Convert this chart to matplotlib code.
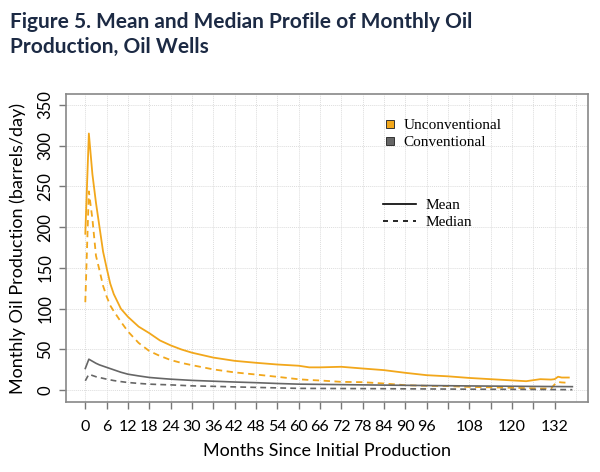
import matplotlib.pyplot as plt
from matplotlib.lines import Line2D

# months sampled (dense at start, sparser later)
months = [0, 1, 2, 3, 4, 5, 6, 7, 8, 10, 12, 15, 18, 21, 24, 27, 30, 36, 42, 48, 54, 60,
          63, 66, 72, 78, 84, 90, 96, 102, 108, 114, 120, 124, 128, 131, 132, 133, 134, 136]

unconv_mean = [192, 315, 265, 230, 200, 170, 150, 131, 118, 100, 90, 78, 70, 61, 55, 50, 46,
               40, 36, 33.6, 31.5, 30, 28, 28, 28.7, 26.6, 24.6, 21.3, 18.4, 17, 15, 13.5,
               12, 11, 13.5, 13, 13.5, 16.5, 15.5, 15.5]
unconv_median = [108, 244, 210, 165, 147, 128, 115, 104, 97, 84, 72, 58, 48, 42, 37, 33.5, 30.7,
                 25.5, 21.8, 19.2, 16.4, 13.4, 12.5, 11.9, 10.2, 9.8, 8.2, 6.1, 5.3, 5, 4,
                 3.5, 2.9, 2.5, 2, 2, 7, 10, 9.5, 9]

months_c = [0, 1, 2, 3, 4, 6, 8, 10, 12, 15, 18, 21, 24, 30, 36, 42, 48, 54, 60, 72, 84, 96,
            108, 120, 130, 137]
conv_mean = [26.6, 38, 35.5, 33, 31, 28, 25, 22, 19.6, 17.5, 15.6, 14.5, 13.5, 12, 11, 10,
             9.2, 8.2, 7.4, 6.8, 6.2, 5.7, 5.2, 4.8, 4.5, 4.3]
conv_median = [11.5, 19.6, 18, 16.5, 15.5, 13.5, 11.8, 10.5, 9.4, 8.3, 7.4, 6.9, 6.5, 5.3,
               4.7, 4, 3.4, 2.8, 2.2, 2, 1.8, 1.5, 1.2, 1, 0.8, 0.6]

xtick_labels = [0, 6, 12, 18, 24, 30, 36, 42, 48, 54, 60, 66, 72, 78, 84, 90, 96, 108, 120, 132]

orange = "#F2A71B"
grey = "#666666"

fig = plt.figure(figsize=(6, 4.72), dpi=100)
ax = fig.add_axes([0.11, 0.148, 0.87, 0.653])

# grid
for gx in range(0, 139, 6):
    ax.axvline(gx, color="#dddddd", lw=0.7, ls=(0, (1, 1)), zorder=0)
for gy in range(0, 351, 50):
    ax.axhline(gy, color="#dddddd", lw=0.7, ls=(0, (1, 1)), zorder=0)

ax.plot(months, unconv_mean, color=orange, lw=1.3)
ax.plot(months, unconv_median, color=orange, lw=1.3, ls=(0, (3.5, 2.5)))
ax.plot(months_c, conv_mean, color=grey, lw=1.2)
ax.plot(months_c, conv_median, color=grey, lw=1.2, ls=(0, (3.5, 2.5)))

ax.set_xlim(-5.43, 141.4)
ax.set_ylim(-14.7, 363.6)

ax.set_xticks(range(0, 133, 6))
ax.set_xticklabels([str(m) if m in xtick_labels else "" for m in range(0, 133, 6)],
                   fontsize=11.5, family="Lato")
ax.set_yticks(range(0, 351, 50))
ax.set_yticklabels([str(v) for v in range(0, 351, 50)], rotation=90, va="center",
                   fontsize=12, family="Lato")
ax.tick_params(axis="both", direction="out", length=5, color="#777777", width=1)
ax.tick_params(axis="x", pad=8)
ax.tick_params(axis="y", pad=4)
ax.tick_params(top=False, right=False)

for s in ax.spines.values():
    s.set_color("#888888")
    s.set_linewidth(1.2)

ax.set_xlabel("Months Since Initial Production", fontsize=13, family="Lato", labelpad=6)
ax.set_ylabel("Monthly Oil Production (barrels/day)", fontsize=13, family="Lato", labelpad=8)

h1 = [Line2D([], [], marker="s", ls="", markersize=6, markerfacecolor=orange,
             markeredgecolor="#333333", markeredgewidth=0.7),
      Line2D([], [], marker="s", ls="", markersize=6, markerfacecolor=grey,
             markeredgecolor="#333333", markeredgewidth=0.7)]
leg1 = ax.legend(h1, ["Unconventional", "Conventional"], loc="upper left",
                 bbox_to_anchor=(0.582, 0.965), frameon=False, handlelength=0.8,
                 handletextpad=0.5, labelspacing=0.2,
                 prop={"family": "Liberation Serif", "size": 11})
ax.add_artist(leg1)

h2 = [Line2D([], [], color="black", lw=1.2),
      Line2D([], [], color="black", lw=1.2, ls=(0, (3, 3)))]
ax.legend(h2, ["Mean", "Median"], loc="upper left", bbox_to_anchor=(0.58, 0.705),
          frameon=False, handlelength=2.2, handletextpad=0.6, labelspacing=0.2,
          prop={"family": "Liberation Serif", "size": 11})

fig.text(0.017, 0.975, "Figure 5. Mean and Median Profile of Monthly Oil\nProduction, Oil Wells",
         fontsize=15, fontweight="bold", color="#1c2a44", family="Lato",
         va="top", linespacing=1.3)

fig.savefig("out.png", dpi=100)
